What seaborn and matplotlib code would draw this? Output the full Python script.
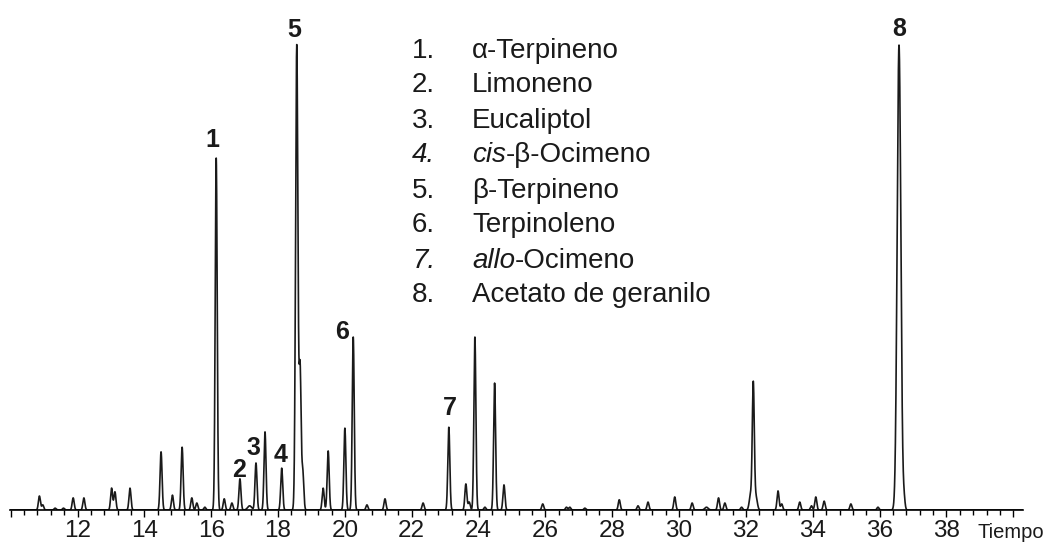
import numpy as np
import pandas as pd
import matplotlib
matplotlib.use("Agg")
import matplotlib.pyplot as plt
from matplotlib.ticker import MultipleLocator
import seaborn as sns

# Peak table of the chromatogram: retention time (min), relative abundance (%), peak width (min)
retention_time = [10.86, 10.96, 11.33, 11.58, 11.87, 12.19, 13.02, 13.12, 13.57, 14.50,
                  14.84, 15.13, 15.42, 15.57, 15.81, 16.15, 16.39, 16.62, 16.86, 17.15,
                  17.34, 17.61, 18.11, 18.56, 18.66, 18.74, 19.35, 19.50, 20.00, 20.25,
                  20.66, 21.20, 22.34, 23.11, 23.62, 23.72, 23.89, 24.19, 24.48, 24.76,
                  25.92, 26.63, 26.73, 27.18, 28.21, 28.77, 29.07, 29.87, 30.39, 30.82,
                  31.18, 31.37, 31.87, 32.14, 32.22, 32.30, 32.96, 33.07, 33.61, 33.96,
                  34.09, 34.34, 35.14, 35.95, 36.58, 36.73]
abundance = [3.0, 1.1, 0.4, 0.4, 2.6, 2.6, 4.7, 3.9, 4.7, 12.5,
             3.2, 13.5, 2.6, 1.5, 0.6, 75.7, 2.4, 1.5, 6.7, 0.9,
             10.1, 16.8, 9.0, 100.0, 30.1, 8.2, 4.7, 12.7, 17.6, 37.2,
             1.1, 2.4, 1.5, 17.8, 5.6, 1.7, 37.2, 0.6, 27.3, 5.4,
             1.3, 0.6, 0.6, 0.4, 2.2, 0.9, 1.7, 2.8, 1.5, 0.6,
             2.6, 1.5, 0.6, 3.2, 26.9, 2.8, 4.1, 1.3, 1.7, 0.9,
             2.8, 1.9, 1.3, 0.6, 100.0, 2.2]
peak_width = [0.03, 0.03, 0.03, 0.03, 0.03, 0.03, 0.03, 0.03, 0.03, 0.03,
              0.03, 0.03, 0.03, 0.03, 0.03, 0.03, 0.03, 0.03, 0.03, 0.06,
              0.03, 0.03, 0.03, 0.035, 0.03, 0.03, 0.03, 0.03, 0.03, 0.03,
              0.03, 0.03, 0.03, 0.03, 0.03, 0.03, 0.03, 0.03, 0.03, 0.03,
              0.03, 0.03, 0.03, 0.03, 0.03, 0.03, 0.03, 0.03, 0.03, 0.05,
              0.03, 0.03, 0.03, 0.04, 0.03, 0.04, 0.03, 0.03, 0.03, 0.03,
              0.03, 0.03, 0.03, 0.03, 0.055, 0.03]

# Identified compounds
compound_numbers = ["1.", "2.", "3.", "4.", "5.", "6.", "7.", "8."]
compound_names = ["α-Terpineno", "Limoneno", "Eucaliptol", "cis-β-Ocimeno",
                  "β-Terpineno", "Terpinoleno", "allo-Ocimeno", "Acetato de geranilo"]
italic_prefix = ["", "", "", "cis", "", "", "allo", ""]

# Peak number labels: position (retention time, abundance) of each label
label_text = ["1", "2", "3", "4", "5", "6", "7", "8"]
label_rt = [16.05, 16.84, 17.26, 18.08, 18.48, 19.91, 23.15, 36.59]
label_height = [78.0, 7.2, 11.8, 10.4, 101.8, 36.7, 20.4, 101.9]

time_ticks = [10, 12, 14, 16, 18, 20, 22, 24, 26, 28, 30, 32, 34, 36, 38, 40]
time_tick_labels = ["", "12", "14", "16", "18", "20", "22", "24", "26", "28",
                    "30", "32", "34", "36", "38", ""]
x_title = "Tiempo"

sns.set_theme(style="ticks")
plt.rcParams["font.family"] = ["Liberation Sans", "DejaVu Sans"]

W, H = 1050, 542
INK = "#1a1a1a"
fig = plt.figure(figsize=(W / 100, H / 100), dpi=100)
ax = fig.add_axes([10 / W, (H - 510) / H, (1023 - 10) / W, (510 - 40) / H])

# Detector trace rebuilt from the peak table
t = np.arange(9.98, 40.29, 0.002)
signal = np.zeros_like(t)
for rt, h, w in zip(retention_time, abundance, peak_width):
    signal += h * np.exp(-0.5 * ((t - rt) / w) ** 2)
trace = pd.DataFrame({"tiempo": t, "senal": signal})
sns.lineplot(data=trace, x="tiempo", y="senal", estimator=None, sort=False,
             color=INK, lw=1.2, ax=ax)

ax.set_xlim(9.98, 40.29)
ax.set_ylim(0, 101.1)
ax.set_xlabel("")
ax.set_ylabel("")
ax.set_yticks([])
sns.despine(ax=ax, left=True)
ax.spines["bottom"].set_color("black")
ax.spines["bottom"].set_linewidth(1.2)

ax.set_xticks(time_ticks)
ax.set_xticklabels(time_tick_labels)
ax.xaxis.set_minor_locator(MultipleLocator(0.4))
ax.tick_params(axis="x", which="major", direction="out", length=5, width=1.0,
               color="black", labelsize=17.5, labelcolor=INK, pad=2.5)
ax.tick_params(axis="x", which="minor", direction="out", length=3.5, width=1.0,
               color="black")

# Peak numbers
for s, x, y in zip(label_text, label_rt, label_height):
    ax.text(x, y, s, fontsize=18, fontweight="bold", ha="center", va="baseline",
            color=INK, clip_on=False)

fig.text(978 / W, 1 - 537.5 / H, x_title, fontsize=14.5, color=INK,
         ha="left", va="baseline")

# Compound list
renderer = fig.canvas.get_renderer()
for i, (num, name, pre) in enumerate(zip(compound_numbers, compound_names, italic_prefix)):
    yb = 1 - (57.5 + i * 35.0) / H
    fig.text(412 / W, yb, num, fontsize=20, color=INK, va="baseline",
             style="italic" if pre else "normal")
    x = 472.0
    parts = [(pre, "italic"), (name[len(pre):], "normal")] if pre else [(name, "normal")]
    for part, style in parts:
        txt = fig.text(x / W, yb, part, fontsize=20, color=INK, va="baseline", style=style)
        x += txt.get_window_extent(renderer).width

fig.savefig("out.png", dpi=100)
